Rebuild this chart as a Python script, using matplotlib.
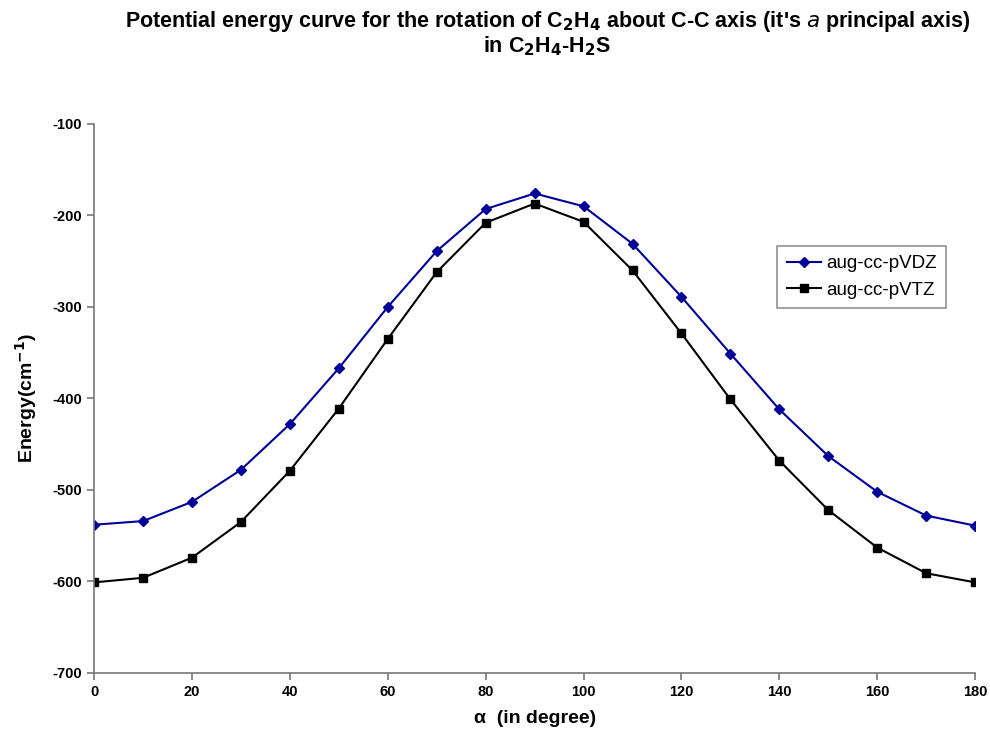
import numpy as np
from matplotlib import pyplot as plt

plt.rcParams['font.family'] = ['Liberation Sans', 'DejaVu Sans']
plt.rcParams['axes.unicode_minus'] = False

# rotation angle (degrees) and energies (cm^-1)
angle = [0, 10, 20, 30, 40, 50, 60, 70, 80, 90, 100, 110, 120, 130, 140, 150, 160, 170, 180]
vdz = [-538, -534, -513, -478, -428, -367, -300, -239, -193, -176, -190, -231, -289,
       -351, -412, -463, -502, -528, -539]
vtz = [-601, -596, -574, -535, -479, -411, -335, -262, -208, -187, -207, -260, -329,
       -401, -468, -522, -563, -591, -601]

fig = plt.figure(figsize=(9.9, 7.42), dpi=100)
ax = fig.add_axes([0.095, 0.093, 0.89, 0.74])

ax.plot(angle, vdz, color='#000099', marker='D', markersize=5, linewidth=1.5, label='aug-cc-pVDZ')
ax.plot(angle, vtz, color='black', marker='s', markersize=6, linewidth=1.5, label='aug-cc-pVTZ')

ax.set_xlim(0, 180)
ax.set_ylim(-700, -100)
ax.set_xticks(range(0, 181, 20))
ax.set_yticks(range(-700, -99, 100))

for s in ['top', 'right']:
    ax.spines[s].set_visible(False)
for s in ['left', 'bottom']:
    ax.spines[s].set_color('#777777')
    ax.spines[s].set_linewidth(1.2)
ax.tick_params(color='#777777', length=5, width=1.2, labelsize=10.5)
for lab in ax.get_xticklabels() + ax.get_yticklabels():
    lab.set_fontweight('bold')

ax.set_ylabel('Energy(cm$^{\\mathbf{-1}}$)', fontsize=14, fontweight='bold', labelpad=10)
ax.set_xlabel('\u03b1  (in degree)', fontsize=14, fontweight='bold', labelpad=8)

fig.text(0.553, 0.955,
         r"Potential energy curve for the rotation of C$_\mathbf{2}$H$_\mathbf{4}$ about C-C axis (it's $\mathbf{\mathit{a}}$ principal axis)"
         "\n" r"in C$_\mathbf{2}$H$_\mathbf{4}$-H$_\mathbf{2}$S",
         ha='center', va='center', fontsize=15.5, fontweight='bold', linespacing=1.0)

leg = ax.legend(loc='upper left', bbox_to_anchor=(0.765, 0.795), fontsize=13.5,
                frameon=True, fancybox=False, handlelength=1.8, handletextpad=0.3,
                borderpad=0.5, labelspacing=0.5)
leg.get_frame().set_edgecolor('#777777')
leg.get_frame().set_linewidth(1.2)

plt.savefig('out.png')
